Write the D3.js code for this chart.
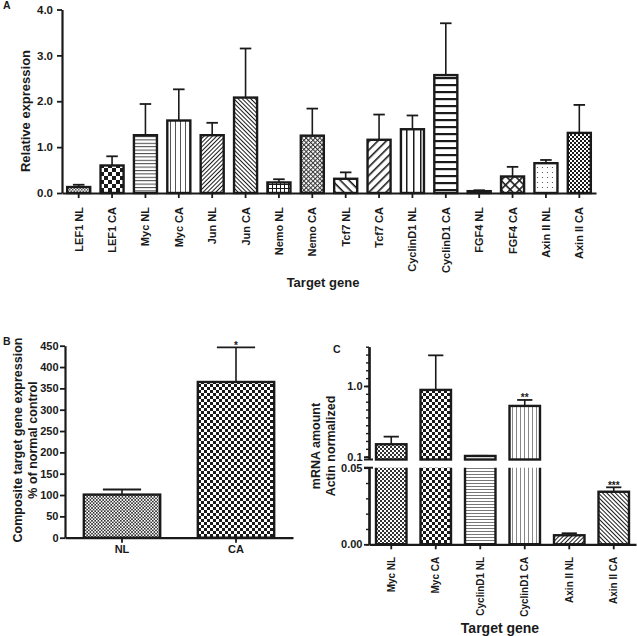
<!DOCTYPE html>
<html>
<head>
<meta charset="utf-8">
<script src="https://cdn.jsdelivr.net/npm/d3@7"></script>
<style>
body { margin: 0; background: #fff; }
text { font-family: "Liberation Sans", Arial, sans-serif; font-weight: bold; fill: #1a1a1a; }
</style>
</head>
<body>
<div id="chart"></div>
<script>
// panel A
const genesA = ["LEF1 NL", "LEF1 CA", "Myc NL", "Myc CA", "Jun NL", "Jun CA", "Nemo NL", "Nemo CA",
    "Tcf7 NL", "Tcf7 CA", "CyclinD1 NL", "CyclinD1 CA", "FGF4 NL", "FGF4 CA", "Axin II NL", "Axin II CA"]
const valuesA = [0.13, 0.60, 1.26, 1.58, 1.26, 2.08, 0.23, 1.25, 0.31, 1.16, 1.39, 2.57, 0.04, 0.36, 0.65, 1.31]
const semA = [0.05, 0.20, 0.68, 0.68, 0.27, 1.07, 0.07, 0.59, 0.14, 0.55, 0.30, 1.13, 0.02, 0.21, 0.07, 0.61]
const ticksA = [0, 1, 2, 3, 4]

// panel B
const groupsB = ["NL", "CA"]
const valuesB = [101, 365]
const semB = [12, 81]
const starsB = ["", "*"]
const ticksB = [0, 50, 100, 150, 200, 250, 300, 350, 400, 450]

// panel C (broken axis)
const genesC = ["Myc NL", "Myc CA", "CyclinD1 NL", "CyclinD1 CA", "Axin II NL", "Axin II CA"]
const valuesC = [0.258, 0.95, 0.109, 0.746, 0.0059, 0.0343]
const semC = [0.097, 0.44, 0.002, 0.076, 0.0013, 0.0029]
const starsC = ["", "", "", "**", "", "***"]
const upperMajorC = [0.1, 1.0]
const upperMinorC = [0.1, 0.2, 0.3, 0.4, 0.5, 0.6, 0.7, 0.8, 0.9, 1.0, 1.1, 1.2, 1.3, 1.4, 1.5]
const lowerMajorC = [0, 0.05]
const lowerMinorC = [0, 0.01, 0.02, 0.03, 0.04, 0.05]

const ink = "#1a1a1a"

const svg = d3.select("#chart").append("svg")
    .attr("width", 637)
    .attr("height", 636)

const defs = svg.append("defs")

function pattern(id, w, h, draw, rotate) {
    const p = defs.append("pattern")
        .attr("id", id)
        .attr("patternUnits", "userSpaceOnUse")
        .attr("width", w)
        .attr("height", h)
    if (rotate) p.attr("patternTransform", `rotate(${rotate})`)
    p.append("rect").attr("width", w).attr("height", h).attr("fill", "#fff")
    draw(p)
    return `url(#${id})`
}
const checker = (id, s, c = ink) => pattern(id, 2 * s, 2 * s, p => {
    p.append("rect").attr("width", s).attr("height", s).attr("fill", c)
    p.append("rect").attr("x", s).attr("y", s).attr("width", s).attr("height", s).attr("fill", c)
})
const hlines = (id, s, t, c = ink, rot = 0) => pattern(id, s, s, p => {
    p.append("rect").attr("width", s).attr("height", t).attr("fill", c)
}, rot)
const vlines = (id, s, t, c = ink) => pattern(id, s, s, p => {
    p.append("rect").attr("width", t).attr("height", s).attr("fill", c)
})
const grid = (id, s, t, c = ink, rot = 0) => pattern(id, s, s, p => {
    p.append("rect").attr("width", s).attr("height", t).attr("fill", c)
    p.append("rect").attr("width", t).attr("height", s).attr("fill", c)
}, rot)
const dots = (id, s, r, c = ink) => pattern(id, s, s, p => {
    p.append("circle").attr("cx", s / 2).attr("cy", s / 2).attr("r", r).attr("fill", c)
})

const fillsA = [
    checker("a1", 1.5, "#555"),
    checker("a2", 4),
    hlines("a3", 3.4, 1, "#444"),
    vlines("a4", 5, 1, "#555"),
    hlines("a5", 3, 1, ink, -45),
    hlines("a6", 3, 1, ink, 45),
    grid("a7", 4, 1),
    grid("a8", 3.2, 1, "#333", -45),
    hlines("a9", 6, 1.6, ink, 45),
    hlines("a10", 6, 1.6, ink, -45),
    vlines("a11", 7, 1.5),
    hlines("a12", 7, 2.2),
    ink,
    grid("a14", 6.5, 1.6, ink, 45),
    dots("a15", 5, 0.6, "#444"),
    checker("a16", 2)
]
const fillsB = [checker("b1", 1.6, "#333"), checker("b2", 3)]
const fillsC = [
    checker("c1", 2, "#333"),
    checker("c2", 3),
    hlines("c3", 3, 1, "#777"),
    vlines("c4", 4, 1, "#888"),
    hlines("c5", 3, 1, ink, -45),
    hlines("c6", 3, 1, ink, 45)
]

function styleAxis(g, fontSize) {
    g.select(".domain").attr("stroke", ink).attr("stroke-width", 2.2)
    g.selectAll(".tick line").attr("stroke", ink).attr("stroke-width", 1.8)
    g.selectAll(".tick text").attr("font-size", fontSize).attr("fill", ink)
        .attr("font-family", "'Liberation Sans', Arial, sans-serif").attr("font-weight", "bold")
}

function errorBars(g, names, values, sems, x, y) {
    const half = x.bandwidth() / 4
    names.forEach((n, i) => {
        const cx = x(n) + x.bandwidth() / 2
        const y0 = y(values[i])
        const y1 = y(values[i] + sems[i])
        g.append("line").attr("x1", cx).attr("x2", cx).attr("y1", y0).attr("y2", y1)
            .attr("stroke", ink).attr("stroke-width", 1.6)
        g.append("line").attr("x1", cx - half).attr("x2", cx + half).attr("y1", y1).attr("y2", y1)
            .attr("stroke", ink).attr("stroke-width", 1.8)
    })
}

// ---------- Panel A ----------
const xA = d3.scaleBand().domain(genesA).range([62, 596]).paddingInner(0.31).paddingOuter(0.155)
const yA = d3.scaleLinear().domain([0, 4]).range([193, 9.5])
const gA = svg.append("g")

errorBars(gA, genesA, valuesA, semA, xA, yA)

gA.selectAll(".barA")
    .data(genesA)
    .join("rect")
    .attr("class", "barA")
    .attr("x", d => xA(d))
    .attr("y", (d, i) => yA(valuesA[i]))
    .attr("width", xA.bandwidth())
    .attr("height", (d, i) => yA(0) - yA(valuesA[i]))
    .attr("fill", (d, i) => fillsA[i])
    .attr("stroke", ink)
    .attr("stroke-width", 2.4)

gA.append("g")
    .attr("transform", "translate(62,0)")
    .call(d3.axisLeft(yA).tickValues(ticksA).tickFormat(d3.format(".1f")).tickSize(5).tickSizeOuter(0).tickPadding(4))
    .call(g => styleAxis(g, 11.5))

gA.append("g")
    .attr("transform", "translate(0,193)")
    .call(d3.axisBottom(xA).tickSize(5).tickSizeOuter(0))
    .call(g => styleAxis(g, 11))
    .call(g => g.selectAll(".tick text")
        .attr("transform", "rotate(-90)")
        .attr("text-anchor", "end")
        .attr("x", -14)
        .attr("y", 0)
        .attr("dy", "0.36em"))

gA.append("text").attr("x", 323).attr("y", 287).attr("text-anchor", "middle").attr("font-size", 13).text("Target gene")
gA.append("text").attr("transform", "translate(30,111) rotate(-90)").attr("text-anchor", "middle")
    .attr("font-size", 13).text("Relative expression")
gA.append("text").attr("x", 3).attr("y", 9).attr("font-size", 10.5).text("A")

// ---------- Panel B ----------
const xB = d3.scaleBand().domain(groupsB).range([65, 293]).paddingInner(0.33).paddingOuter(0.165)
const yB = d3.scaleLinear().domain([0, 450]).range([537.7, 345.7])
const gB = svg.append("g")

errorBars(gB, groupsB, valuesB, semB, xB, yB)

gB.selectAll(".barB")
    .data(groupsB)
    .join("rect")
    .attr("class", "barB")
    .attr("x", d => xB(d))
    .attr("y", (d, i) => yB(valuesB[i]))
    .attr("width", xB.bandwidth())
    .attr("height", (d, i) => yB(0) - yB(valuesB[i]))
    .attr("fill", (d, i) => fillsB[i])
    .attr("stroke", ink)
    .attr("stroke-width", 2.4)

gB.selectAll(".starB")
    .data(groupsB)
    .join("text")
    .attr("class", "starB")
    .attr("x", d => xB(d) + xB.bandwidth() / 2)
    .attr("y", (d, i) => yB(valuesB[i] + semB[i]) + 1.5)
    .attr("text-anchor", "middle")
    .attr("font-size", 10)
    .text((d, i) => starsB[i])

gB.append("g")
    .attr("transform", "translate(65,0)")
    .call(d3.axisLeft(yB).tickValues(ticksB).tickSize(5).tickSizeOuter(0).tickPadding(1.5))
    .call(g => styleAxis(g, 11))

gB.append("g")
    .attr("transform", "translate(0,537.7)")
    .call(d3.axisBottom(xB).tickSize(5).tickSizeOuter(0).tickPadding(3))
    .call(g => styleAxis(g, 11))

gB.append("text").attr("transform", "translate(22,440) rotate(-90)").attr("text-anchor", "middle")
    .attr("font-size", 12.5).text("Composite target gene expression")
gB.append("text").attr("transform", "translate(37,440) rotate(-90)").attr("text-anchor", "middle")
    .attr("font-size", 12.5).text("% of normal control")
gB.append("text").attr("x", 3).attr("y", 345).attr("font-size", 10.5).text("B")

// ---------- Panel C ----------
const xC = d3.scaleBand().domain(genesC).range([369, 636]).paddingInner(0.315).paddingOuter(0.1575)
const upperFloor = 0.064
const yUp = d3.scaleLinear().domain([upperFloor, 1.5]).range([459.5, 346.7])
const yLo = d3.scaleLinear().domain([0, 0.05]).range([544.3, 467.7])
const yC = v => v > 0.05 ? yUp(v) : yLo(v)
const gC = svg.append("g")

errorBars(gC, genesC, valuesC, semC, xC, yC)

// upper segment pieces
const upperIdx = d3.range(genesC.length).filter(i => valuesC[i] > upperFloor)
gC.selectAll(".barCu")
    .data(upperIdx)
    .join("rect")
    .attr("class", "barCu")
    .attr("x", i => xC(genesC[i]))
    .attr("y", i => yUp(valuesC[i]))
    .attr("width", xC.bandwidth())
    .attr("height", i => yUp(upperFloor) - yUp(valuesC[i]))
    .attr("fill", i => fillsC[i])
    .attr("stroke", ink)
    .attr("stroke-width", 2.4)

// lower segment pieces: open at the break when the bar continues above
const lowIdx = d3.range(genesC.length)
gC.selectAll(".barCl")
    .data(lowIdx)
    .join("rect")
    .attr("class", "barCl")
    .attr("x", i => xC(genesC[i]))
    .attr("y", i => yLo(Math.min(valuesC[i], 0.05)))
    .attr("width", xC.bandwidth())
    .attr("height", i => yLo(0) - yLo(Math.min(valuesC[i], 0.05)))
    .attr("fill", i => fillsC[i])
    .attr("stroke", i => valuesC[i] > 0.05 ? "none" : ink)
    .attr("stroke-width", 2.4)
gC.selectAll(".barClEdge")
    .data(lowIdx.filter(i => valuesC[i] > 0.05))
    .join("path")
    .attr("class", "barClEdge")
    .attr("d", i => {
        const x0 = xC(genesC[i]), x1 = x0 + xC.bandwidth()
        return `M${x0},${yLo(0.05)}V${yLo(0)}H${x1}V${yLo(0.05)}`
    })
    .attr("fill", "none")
    .attr("stroke", ink)
    .attr("stroke-width", 2.4)

gC.selectAll(".starC")
    .data(genesC)
    .join("text")
    .attr("class", "starC")
    .attr("x", d => xC(d) + xC.bandwidth() / 2)
    .attr("y", (d, i) => yC(valuesC[i] + semC[i]) + 1.5)
    .attr("text-anchor", "middle")
    .attr("font-size", 10)
    .text((d, i) => starsC[i])

gC.append("g")
    .attr("transform", "translate(369,0)")
    .call(d3.axisLeft(yUp).tickValues(upperMinorC).tickSize(3).tickSizeOuter(0).tickFormat(""))
    .call(g => styleAxis(g, 11))
    .call(g => g.selectAll(".tick line").attr("stroke-width", 1.4))
gC.append("g")
    .attr("transform", "translate(369,0)")
    .call(d3.axisLeft(yUp).tickValues(upperMajorC).tickSize(5).tickSizeOuter(0).tickPadding(1.5).tickFormat(d3.format(".1f")))
    .call(g => styleAxis(g, 11))

gC.append("g")
    .attr("transform", "translate(369,0)")
    .call(d3.axisLeft(yLo).tickValues(lowerMinorC).tickSize(3).tickSizeOuter(0).tickFormat(""))
    .call(g => styleAxis(g, 11))
    .call(g => g.selectAll(".tick line").attr("stroke-width", 1.4))
gC.append("g")
    .attr("transform", "translate(369,0)")
    .call(d3.axisLeft(yLo).tickValues(lowerMajorC).tickSize(5).tickSizeOuter(0).tickPadding(1.5).tickFormat(d3.format(".2f")))
    .call(g => styleAxis(g, 11))

// break caps
;[yUp(upperFloor), yLo(0.05)].forEach(y => {
    gC.append("line").attr("x1", 364).attr("x2", 373).attr("y1", y).attr("y2", y)
        .attr("stroke", ink).attr("stroke-width", 2)
})

gC.append("g")
    .attr("transform", "translate(0,544.3)")
    .call(d3.axisBottom(xC).tickSize(5).tickSizeOuter(0))
    .call(g => styleAxis(g, 10))
    .call(g => g.selectAll(".tick text")
        .attr("transform", "rotate(-90)")
        .attr("text-anchor", "end")
        .attr("x", -12.5)
        .attr("y", 0)
        .attr("dy", "0.36em"))

gC.append("text").attr("x", 500).attr("y", 633).attr("text-anchor", "middle").attr("font-size", 14).text("Target gene")
gC.append("text").attr("transform", "translate(320,446) rotate(-90)").attr("text-anchor", "middle")
    .attr("font-size", 12.5).text("mRNA amount")
gC.append("text").attr("transform", "translate(335,446) rotate(-90)").attr("text-anchor", "middle")
    .attr("font-size", 12.5).text("Actin normalized")
gC.append("text").attr("x", 333).attr("y", 353).attr("font-size", 10.5).text("C")
</script>
</body>
</html>
